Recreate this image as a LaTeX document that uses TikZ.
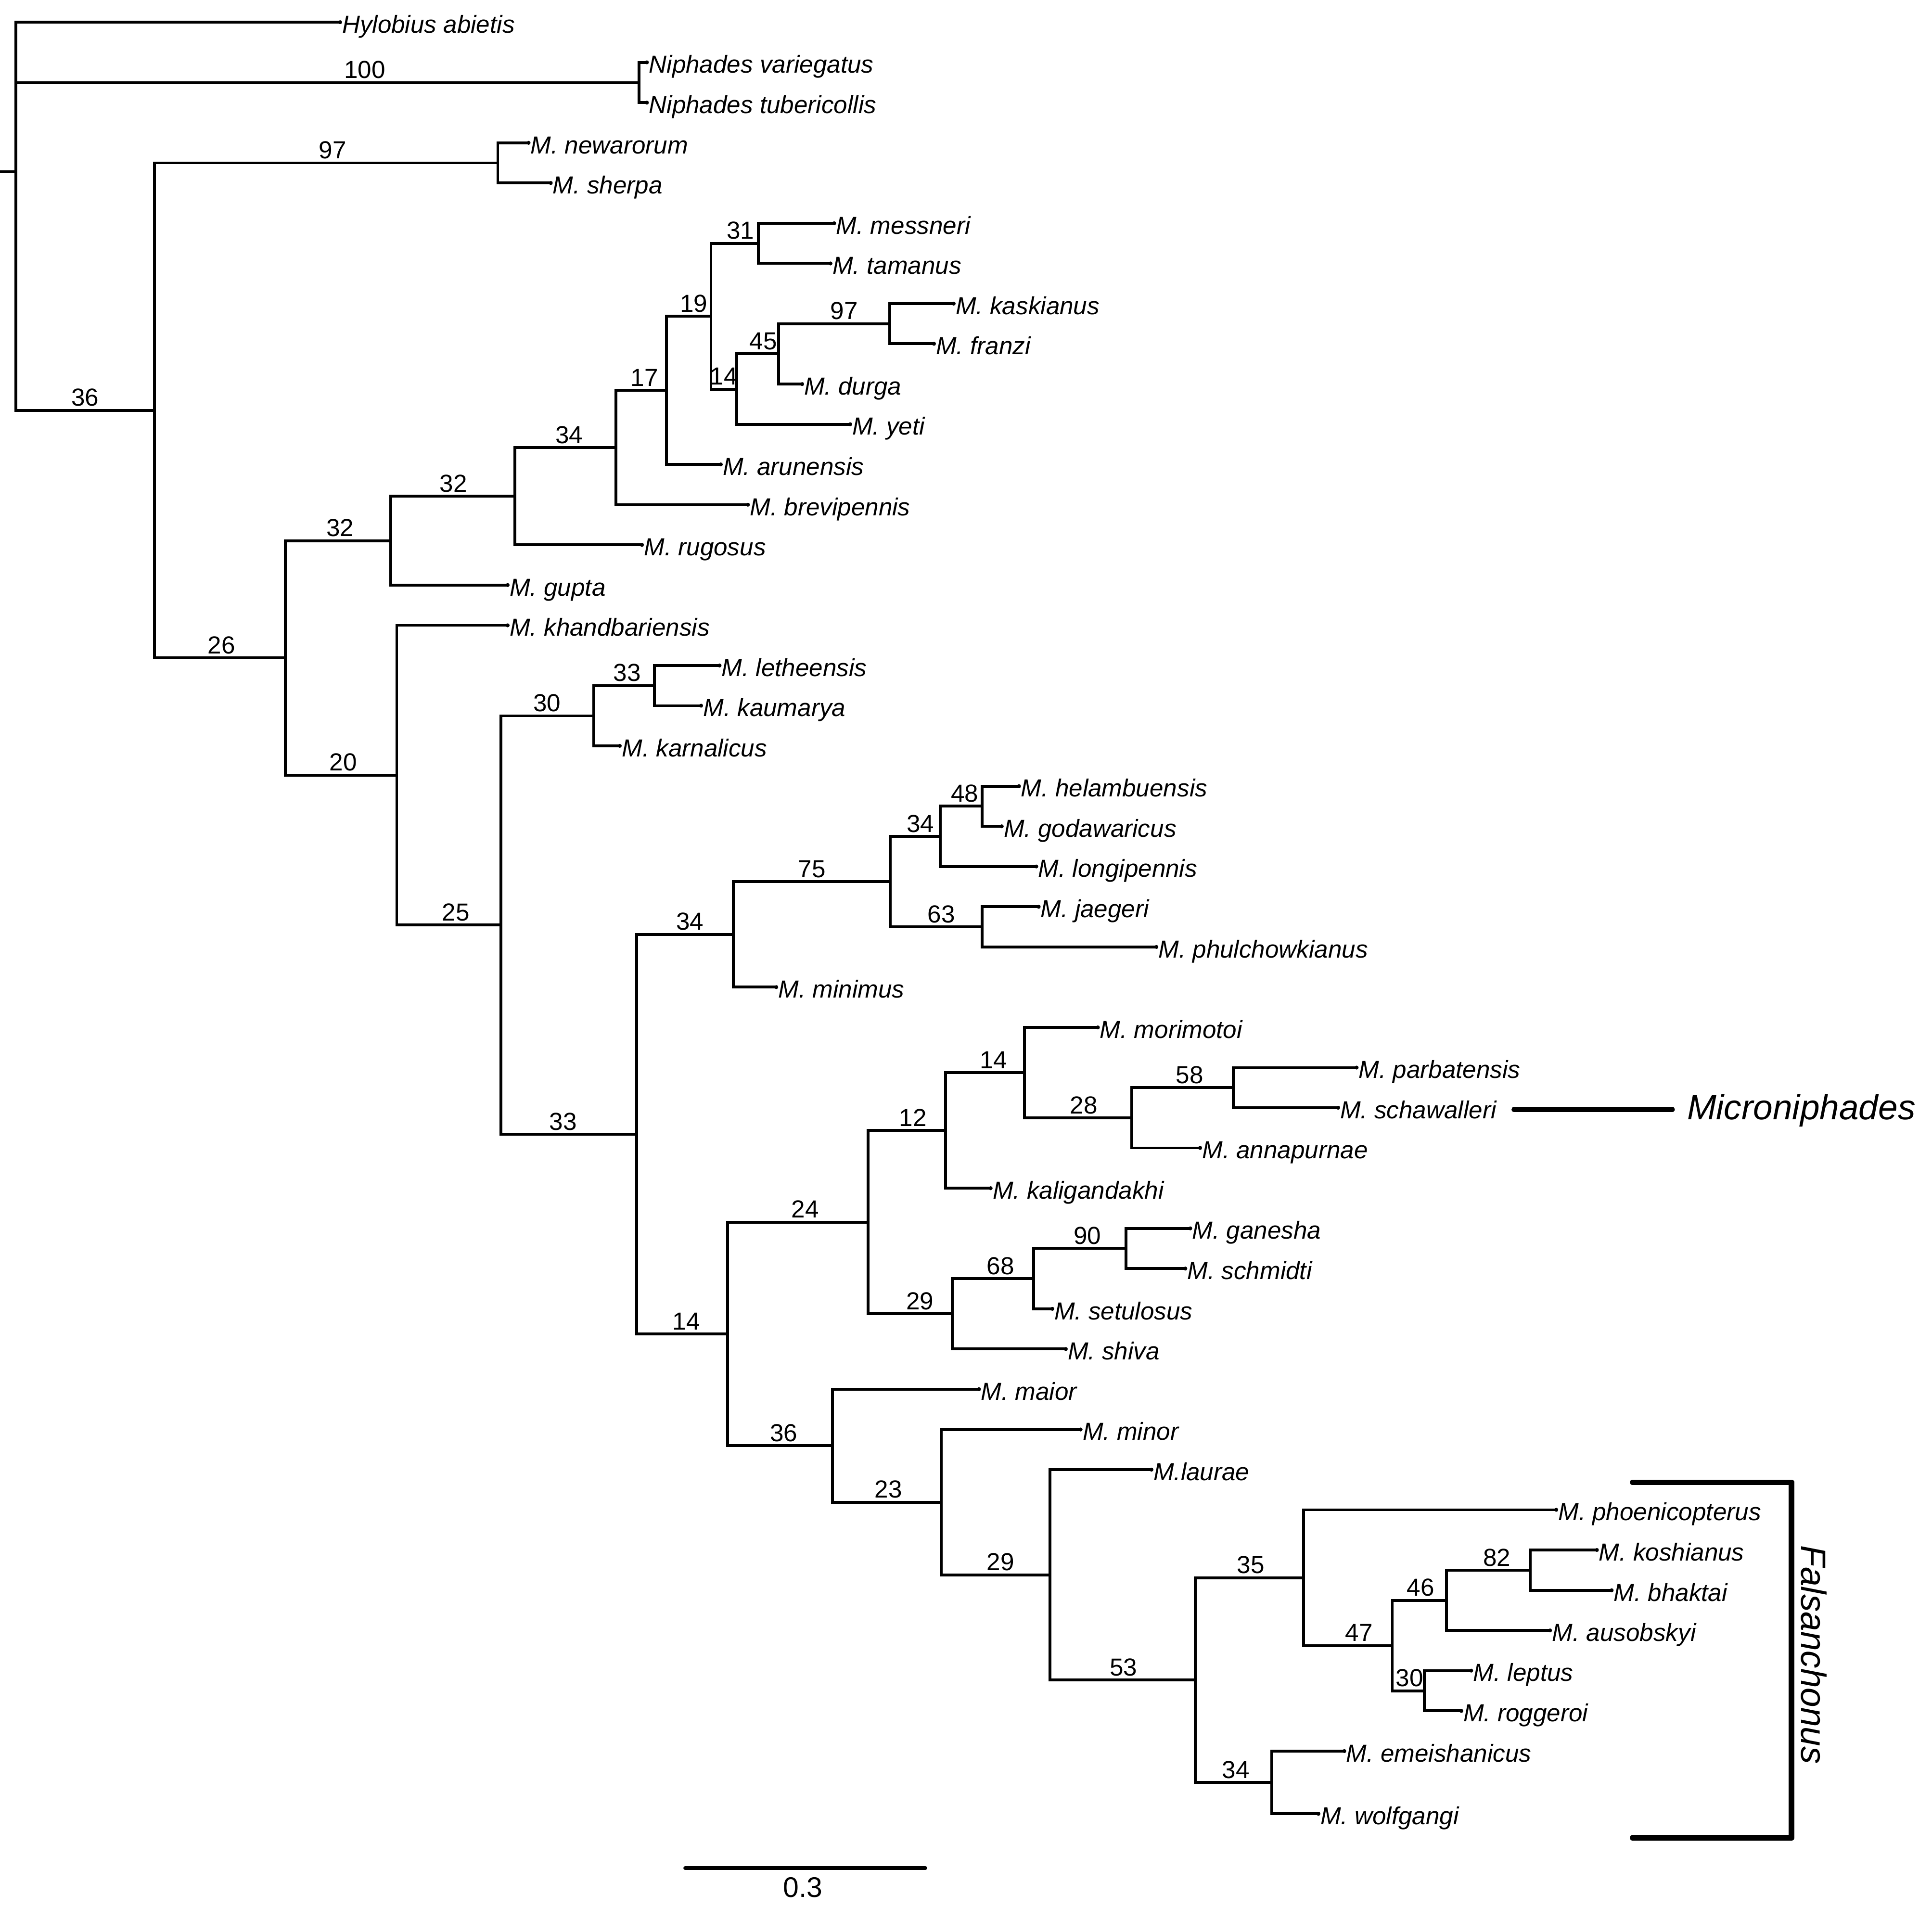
\documentclass[tikz,border=0pt]{standalone}
\usepackage{fontspec}
\setmainfont{Liberation Sans}
\newcommand\tipfnt{\fontsize{20}{24}\selectfont\itshape}
\newcommand\supfnt{\fontsize{20}{24}\selectfont}
\newcommand\bigfnt{\fontsize{28.5}{32}\selectfont\itshape}
\begin{document}
\begin{tikzpicture}[x=1pt,y=-1pt,
  br/.style={line width=2.3pt},
  tiplab/.style={anchor=base west,inner sep=0pt,xshift=1.5pt,yshift=-8.7pt,font=\tipfnt},
  suplab/.style={anchor=base,inner sep=0pt,font=\supfnt},
  heavy/.style={line width=4.5pt,line cap=round,line join=round}]
\useasboundingbox (0,0) rectangle (1568,1548.4);
% internal nodes
\coordinate (stub) at (0,139.3);
\coordinate (root) at (13,139.3);
\coordinate (nNiph) at (518.5,67);
\coordinate (n36) at (125.5,333.1);
\coordinate (n97a) at (404,132.2);
\coordinate (n26) at (231.5,534);
\coordinate (n32a) at (317,438.8);
\coordinate (n32b) at (418,402.7);
\coordinate (n34a) at (500,363.2);
\coordinate (n17) at (541,316.8);
\coordinate (n19) at (577,256.6);
\coordinate (n31) at (615.5,197.5);
\coordinate (n14a) at (598,315.8);
\coordinate (n45) at (632,287.2);
\coordinate (n97b) at (722,262.7);
\coordinate (n20) at (322,629.1);
\coordinate (n25) at (406.5,750.7);
\coordinate (n30a) at (482,580.9);
\coordinate (n33a) at (531,556.4);
\coordinate (n33b) at (516.5,920.5);
\coordinate (n34b) at (595,758.3);
\coordinate (n75) at (722.5,715.5);
\coordinate (n34c) at (763,678.8);
\coordinate (n48) at (797,654.3);
\coordinate (n63) at (797,752.2);
\coordinate (n14b) at (590.5,1082.6);
\coordinate (n24) at (704.5,991.9);
\coordinate (n12) at (767.5,917.4);
\coordinate (n14c) at (831.5,870.5);
\coordinate (n28) at (918.5,907.2);
\coordinate (n58) at (1001,882.7);
\coordinate (n29a) at (773,1066.3);
\coordinate (n68) at (839,1037.7);
\coordinate (n90) at (914,1013.2);
\coordinate (n36b) at (675.5,1173.3);
\coordinate (n23) at (764,1219.1);
\coordinate (n29b) at (852,1278.1);
\coordinate (n53) at (970,1363.5);
\coordinate (n35) at (1058,1280.4);
\coordinate (n47) at (1130,1335.5);
\coordinate (n46) at (1174,1298.8);
\coordinate (n82) at (1242,1274.3);
\coordinate (n30b) at (1156,1372.2);
\coordinate (n34d) at (1032,1446.6);
% tips
\coordinate (hyl) at (276,18);
\coordinate (nvar) at (525,50.6);
\coordinate (ntub) at (525,83.3);
\coordinate (newa) at (429,115.9);
\coordinate (sher) at (447,148.5);
\coordinate (mess) at (677,181.2);
\coordinate (tama) at (674,213.8);
\coordinate (kask) at (774,246.4);
\coordinate (fran) at (758,279.0);
\coordinate (durg) at (651,311.7);
\coordinate (yeti) at (690,344.3);
\coordinate (arun) at (585,376.9);
\coordinate (brev) at (607,409.6);
\coordinate (rugo) at (521,442.2);
\coordinate (gupt) at (412,474.8);
\coordinate (khan) at (412,507.5);
\coordinate (leth) at (584,540.1);
\coordinate (kaum) at (569,572.7);
\coordinate (karn) at (503,605.3);
\coordinate (hela) at (827,638.0);
\coordinate (goda) at (813,670.6);
\coordinate (long) at (841,703.2);
\coordinate (jaeg) at (843,735.9);
\coordinate (phul) at (938.5,768.5);
\coordinate (mini) at (630,801.1);
\coordinate (mori) at (891,833.8);
\coordinate (parb) at (1101,866.4);
\coordinate (scha) at (1086,899.0);
\coordinate (anna) at (974,931.6);
\coordinate (kali) at (804,964.3);
\coordinate (gane) at (966,996.9);
\coordinate (schm) at (962,1029.5);
\coordinate (setu) at (854,1062.2);
\coordinate (shiv) at (865,1094.8);
\coordinate (maio) at (794.5,1127.4);
\coordinate (mino) at (877,1160.1);
\coordinate (laur) at (934.5,1192.7);
\coordinate (phoe) at (1263,1225.3);
\coordinate (kosh) at (1296,1257.9);
\coordinate (bhak) at (1308,1290.6);
\coordinate (auso) at (1258,1323.2);
\coordinate (lept) at (1194,1355.8);
\coordinate (rogg) at (1186,1388.5);
\coordinate (emei) at (1091,1421.1);
\coordinate (wolf) at (1070,1472);
% branches
\draw[br] (stub) -- (root);
\foreach \p/\c in {root/hyl,root/nNiph,root/n36,nNiph/nvar,nNiph/ntub,
  n36/n97a,n36/n26,n97a/newa,n97a/sher,n26/n32a,n26/n20,
  n32a/n32b,n32a/gupt,n32b/n34a,n32b/rugo,n34a/n17,n34a/brev,
  n17/n19,n17/arun,n19/n31,n19/n14a,n31/mess,n31/tama,
  n14a/n45,n14a/yeti,n45/n97b,n45/durg,n97b/kask,n97b/fran,
  n20/khan,n20/n25,n25/n30a,n25/n33b,n30a/n33a,n30a/karn,
  n33a/leth,n33a/kaum,n33b/n34b,n33b/n14b,n34b/n75,n34b/mini,
  n75/n34c,n75/n63,n34c/n48,n34c/long,n48/hela,n48/goda,
  n63/jaeg,n63/phul,n14b/n24,n14b/n36b,n24/n12,n24/n29a,
  n12/n14c,n12/kali,n14c/mori,n14c/n28,n28/n58,n28/anna,
  n58/parb,n58/scha,n29a/n68,n29a/shiv,n68/n90,n68/setu,
  n90/gane,n90/schm,n36b/maio,n36b/n23,n23/mino,n23/n29b,
  n29b/laur,n29b/n53,n53/n35,n53/n34d,n35/phoe,n35/n47,
  n47/n46,n47/n30b,n46/n82,n46/auso,n82/kosh,n82/bhak,
  n30b/lept,n30b/rogg,n34d/emei,n34d/wolf}
  \draw[br] (\p) |- (\c);
% tip dots and labels
\foreach \t/\txt in {hyl/Hylobius abietis,nvar/Niphades variegatus,ntub/Niphades tubericollis,
  newa/M. newarorum,sher/M. sherpa,mess/M. messneri,tama/M. tamanus,kask/M. kaskianus,
  fran/M. franzi,durg/M. durga,yeti/M. yeti,arun/M. arunensis,brev/M. brevipennis,
  rugo/M. rugosus,gupt/M. gupta,khan/M. khandbariensis,leth/M. letheensis,
  kaum/M. kaumarya,karn/M. karnalicus,hela/M. helambuensis,goda/M. godawaricus,
  long/M. longipennis,jaeg/M. jaegeri,phul/M. phulchowkianus,mini/M. minimus,
  mori/M. morimotoi,parb/M. parbatensis,scha/M. schawalleri,anna/M. annapurnae,
  kali/M. kaligandakhi,gane/M. ganesha,schm/M. schmidti,setu/M. setulosus,
  shiv/M. shiva,maio/M. maior,mino/M. minor,laur/M.laurae,phoe/M. phoenicopterus,
  kosh/M. koshianus,bhak/M. bhaktai,auso/M. ausobskyi,lept/M. leptus,
  rogg/M. roggeroi,emei/M. emeishanicus,wolf/M. wolfgangi}
{
  \fill (\t) circle (1.6);
  \node[tiplab] (L\t) at (\t) {\txt};
}
% support values
\foreach \i/\x/\y/\v in {1/296/63.5/100,2/270/128.7/97,3/69/329.6/36,4/179.7/530.5/26,
  5/276/435.3/32,6/368/399.2/32,7/462/359.7/34,8/523/313.3/17,9/563/253.1/19,
  10/601/194/31,11/587.5/312.3/14,12/619.5/283.7/45,13/685/259.2/97,
  14/278.6/625.6/20,15/370/747.2/25,16/444/577.4/30,17/509/552.9/33,
  18/457/917/33,19/560/754.8/34,20/659/712/75,21/747/675.3/34,22/783/650.8/48,
  23/764/748.7/63,24/557/1079.1/14,25/653.5/988.4/24,26/741/913.9/12,
  27/806.4/867/14,28/879.5/903.7/28,29/965.5/879.2/58,30/746.5/1062.8/29,
  31/812/1034.2/68,32/882.6/1009.7/90,33/636/1169.8/36,34/721/1215.6/23,
  35/812/1274.6/29,36/911.7/1360/53,37/1015/1276.9/35,38/1103/1332/47,
  39/1153/1295.3/46,40/1214.8/1270.8/82,41/1144/1368.7/30,42/1003/1443.1/34}
  \node[suplab] (s\i) at (\x,\y) {\v};
% clade marks
\coordinate (mb1) at (1229,900.4);
\coordinate (mb2) at (1357,900.4);
\draw[heavy] (mb1) -- (mb2);
\node[anchor=base west,inner sep=0pt,font=\bigfnt] (micro) at (1369,908.5) {Microniphades};
\coordinate (fb1) at (1325,1203);
\coordinate (fb2) at (1454,1203);
\coordinate (fb3) at (1454,1491.5);
\coordinate (fb4) at (1325,1491.5);
\draw[heavy] (fb1) -- (fb2) -- (fb3) -- (fb4);
\node[rotate=-90,inner sep=0pt,font=\bigfnt] (fals) at (1472,1343) {Falsanchonus};
% scale bar
\coordinate (sb1) at (556,1516);
\coordinate (sb2) at (751,1516);
\draw[line width=2.8pt,line cap=round] (sb1) -- (sb2);
\node[anchor=base,inner sep=0pt,font=\fontsize{23}{26}\selectfont] (sbl) at (651.5,1539.5) {0.3};
\end{tikzpicture}
\end{document}
